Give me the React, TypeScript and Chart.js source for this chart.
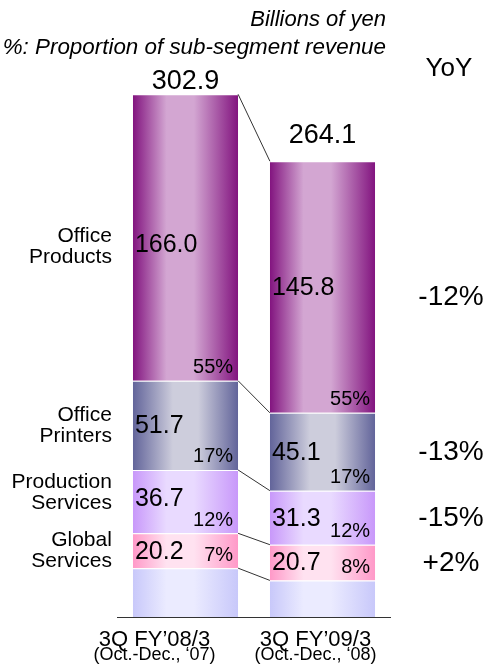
import { useEffect, useRef } from "react";
import { Chart, registerables } from "chart.js";

Chart.register(...registerables);

// ---- data ----
const PERIODS = ["3Q FY’08/3", "3Q FY’09/3"];
const PERIOD_SUBS = ["(Oct.-Dec., ‘07)", "(Oct.-Dec., ‘08)"];
const TOTALS = [302.9, 264.1];
const OTHER = [28.3, 21.2];
const GLOBAL = [20.2, 20.7];
const PRODUCTION = [36.7, 31.3];
const PRINTERS = [51.7, 45.1];
const PRODUCTS = [166.0, 145.8];
const GLOBAL_SHARE = ["7%", "8%"];
const PRODUCTION_SHARE = ["12%", "12%"];
const PRINTERS_SHARE = ["17%", "17%"];
const PRODUCTS_SHARE = ["55%", "55%"];
const SEGMENT_NAMES = ["", "Global\nServices", "Production\nServices", "Office\nPrinters", "Office\nProducts"];
const YOY = ["", "+2%", "-15%", "-13%", "-12%"];
const Y_MAX = 310;

const FONT = "'Liberation Sans', Arial, sans-serif";
const CAT_PCT = 0.8;
const BAR_PCT = 0.96;
const LABEL_SHIFT = [-31, -7];
const NAME_SHIFT = [0, 0, -9, 0, 9];
const VALUE_SHIFT = [0, 0, -4, 0, 7];

function grad(edge: string, light: string, a = 0.32, b = 0.58) {
  return (ctx: any) => {
    const chart = ctx.chart;
    const area = chart.chartArea;
    if (!area || ctx.type !== "data" || !chart.scales.x) return edge;
    const x = chart.scales.x.getPixelForValue(ctx.dataIndex);
    const half = ((area.width / PERIODS.length) * CAT_PCT * BAR_PCT) / 2;
    const g = chart.ctx.createLinearGradient(x - half, 0, x + half, 0);
    g.addColorStop(0, edge);
    g.addColorStop(a, light);
    g.addColorStop(b, light);
    g.addColorStop(1, edge);
    return g;
  };
}

const SHARES: (string[] | null)[] = [null, GLOBAL_SHARE, PRODUCTION_SHARE, PRINTERS_SHARE, PRODUCTS_SHARE];

const overlay = {
  id: "overlay",
  afterDatasetsDraw(chart: any) {
    const ctx = chart.ctx;
    const area = chart.chartArea;
    const metas = chart.data.datasets.map((_: any, i: number) => chart.getDatasetMeta(i));
    ctx.save();
    // connector lines
    ctx.strokeStyle = "#333";
    ctx.lineWidth = 1;
    metas.forEach((m: any) => {
      const a = m.data[0];
      const b = m.data[1];
      ctx.beginPath();
      ctx.moveTo(a.x + a.width / 2, a.y);
      ctx.lineTo(b.x - b.width / 2, b.y);
      ctx.stroke();
    });
    // baseline
    ctx.strokeStyle = "#333";
    ctx.beginPath();
    ctx.moveTo(area.left, area.bottom + 0.5);
    ctx.lineTo(area.right, area.bottom + 0.5);
    ctx.stroke();

    ctx.fillStyle = "#000";
    // segment labels
    metas.forEach((m: any, di: number) => {
      const shares = SHARES[di];
      if (!shares) return;
      const values = chart.data.datasets[di].data;
      m.data.forEach((el: any, j: number) => {
        const left = el.x - el.width / 2;
        const right = el.x + el.width / 2;
        const mid = (el.y + el.base) / 2;
        ctx.font = `25px ${FONT}`;
        ctx.textAlign = "left";
        ctx.textBaseline = "middle";
        ctx.fillText(values[j].toFixed(1), left + 2, mid + 1 + (j === 0 ? VALUE_SHIFT[di] : 0));
        ctx.font = `20px ${FONT}`;
        ctx.textAlign = "right";
        ctx.fillText(shares[j], right - 5, el.base - 13);
      });
      // segment names left of first bar
      const e0 = m.data[0];
      const lines = SEGMENT_NAMES[di].split("\n");
      ctx.font = `21px ${FONT}`;
      ctx.textAlign = "right";
      ctx.textBaseline = "middle";
      const mid0 = (e0.y + e0.base) / 2 + NAME_SHIFT[di];
      lines.forEach((ln: string, k: number) => {
        ctx.fillText(ln, e0.x - e0.width / 2 - 21, mid0 + (k - (lines.length - 1) / 2) * 21);
      });
      // YoY
      const e1 = m.data[1];
      ctx.font = `28px ${FONT}`;
      ctx.textAlign = "center";
      ctx.fillText(YOY[di], 451, (e1.y + e1.base) / 2 + (di === 4 ? 10 : 1));
    });

    // totals
    const top = metas[metas.length - 1];
    ctx.font = `27px ${FONT}`;
    ctx.textAlign = "center";
    ctx.textBaseline = "middle";
    top.data.forEach((el: any, j: number) => {
      ctx.fillText(TOTALS[j].toFixed(1), el.x, el.y - (j === 0 ? 13 : 26));
    });

    // x labels
    PERIODS.forEach((p, j) => {
      const x = chart.scales.x.getPixelForValue(j) + LABEL_SHIFT[j];
      ctx.font = `22px ${FONT}`;
      ctx.fillText(p, x, 640);
      ctx.font = `18px ${FONT}`;
      ctx.fillText(PERIOD_SUBS[j], x, 655);
    });

    // header
    ctx.textAlign = "right";
    ctx.font = `italic 22px ${FONT}`;
    ctx.fillText("Billions of yen", 386, 20);
    ctx.font = `italic 22.4px ${FONT}`;
    ctx.fillText("%: Proportion of sub-segment revenue", 386, 48);
    ctx.font = `26px ${FONT}`;
    ctx.textAlign = "center";
    ctx.fillText("YoY", 449, 69);
    ctx.restore();
  },
};

export default function App() {
  const ref = useRef<HTMLCanvasElement | null>(null);
  useEffect(() => {
    if (!ref.current) return;
    const border = { top: 1, bottom: 0, left: 0, right: 0 };
    const common = {
      borderColor: "rgba(255,255,255,0.85)",
      borderWidth: border,
      borderSkipped: false,
      categoryPercentage: CAT_PCT,
      barPercentage: BAR_PCT,
    };
    const chart = new Chart(ref.current, {
      type: "bar",
      data: {
        labels: PERIODS,
        datasets: [
          { label: "Other", data: OTHER, backgroundColor: grad("#C8C8FA", "#EBEBFF"), ...common },
          { label: "Global Services", data: GLOBAL, backgroundColor: grad("#FF99C8", "#FFE2F0"), ...common },
          { label: "Production Services", data: PRODUCTION, backgroundColor: grad("#C898FA", "#E9DAFF"), ...common },
          { label: "Office Printers", data: PRINTERS, backgroundColor: grad("#62649A", "#CDCDDC", 0.38, 0.62), ...common },
          { label: "Office Products", data: PRODUCTS, backgroundColor: grad("#82147F", "#D3A6D2"), ...common },
        ] as any,
      },
      options: {
        animation: false,
        responsive: false,
        layout: { padding: { left: 117, right: 95, top: 82, bottom: 54 } },
        plugins: { legend: { display: false }, tooltip: { enabled: false }, title: { display: false } },
        scales: {
          x: { stacked: true, display: false },
          y: { stacked: true, display: false, min: 0, max: Y_MAX },
        },
      },
      plugins: [overlay],
    });
    return () => chart.destroy();
  }, []);
  return (
    <div style={{ position: "absolute", left: 0, top: 0, width: 486, height: 671, background: "#fff" }}>
      <canvas ref={ref} width={486} height={671} style={{ width: 486, height: 671 }} />
    </div>
  );
}
